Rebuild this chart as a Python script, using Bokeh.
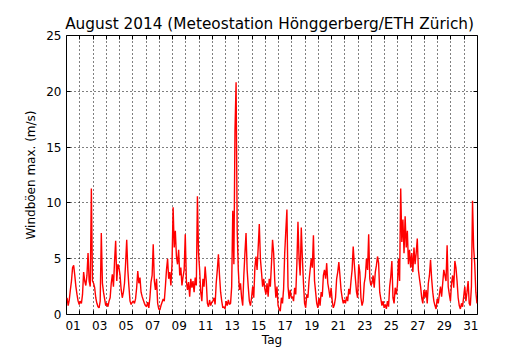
import numpy as np
from bokeh.plotting import figure
from bokeh.models import FixedTicker, CustomJSTickFormatter, LinearAxis, Range1d
from bokeh.embed import file_html
from bokeh.resources import INLINE

# --- data: estimated 2-hourly maximum wind gusts (m/s), August 2014, one row per day ---
gust_ms = [
    1.5, 0.8, 1.3, 2.2, 3.0, 4.2, 4.4, 3.5, 2.5, 1.8, 1.2, 0.9,      # 01
    1.2, 1.0, 1.8, 3.8, 3.0, 2.6, 3.5, 5.5, 3.0, 2.5, 11.3, 3.0,     # 02
    2.8, 2.4, 1.5, 1.0, 0.7, 0.6, 1.2, 7.3, 2.8, 2.0, 1.4, 0.8,      # 03
    1.0, 0.7, 1.2, 1.5, 2.8, 3.6, 2.5, 4.8, 6.6, 3.0, 4.5, 4.2,      # 04
    3.5, 2.2, 1.5, 2.0, 2.8, 4.6, 6.7, 4.0, 2.5, 1.2, 0.9, 1.1,      # 05
    1.2, 1.0, 1.4, 2.4, 3.9, 2.8, 3.3, 2.0, 1.6, 1.3, 1.0, 0.8,      # 06
    0.7, 1.1, 0.6, 1.5, 2.9, 3.5, 6.3, 3.0, 2.2, 3.2, 1.0, 0.5,      # 07
    0.4, 0.8, 1.1, 1.4, 1.2, 2.5, 4.0, 5.0, 3.2, 3.8, 2.6, 4.5,      # 08
    9.6, 6.0, 7.5, 5.2, 4.5, 5.8, 3.5, 4.2, 2.6, 3.4, 4.0, 7.2,      # 09
    3.0, 2.2, 2.9, 1.6, 3.2, 2.4, 3.0, 2.0, 3.3, 2.6, 10.6, 5.5,     # 10
    4.0, 2.0, 1.2, 3.2, 2.5, 4.3, 3.0, 1.0, 0.7, 1.3, 0.8, 1.1,      # 11
    1.2, 1.5, 0.9, 2.8, 4.0, 5.4, 3.5, 2.0, 1.2, 0.6, 0.7, 0.5,      # 12
    1.2, 0.8, 1.3, 0.9, 1.0, 2.5, 9.3, 4.5, 16.5, 20.8, 7.5, 4.0,    # 13
    2.2, 2.8, 1.5, 0.8, 3.5, 5.5, 7.3, 4.0, 2.5, 1.2, 0.8, 1.5,      # 14
    2.5, 1.5, 4.2, 5.2, 4.0, 6.0, 8.1, 5.0, 3.8, 2.5, 3.2, 2.3,      # 15
    1.8, 2.8, 1.6, 3.2, 2.5, 4.5, 6.7, 5.5, 3.0, 1.5, 2.5, 0.8,      # 16
    0.5, 0.3, 1.5, 1.0, 2.3, 5.5, 7.5, 9.4, 2.5, 1.4, 2.2, 1.5,      # 17
    1.6, 1.2, 2.4, 1.8, 4.5, 8.3, 5.0, 3.5, 7.8, 5.0, 2.8, 1.0,      # 18
    0.6, 1.8, 1.5, 3.0, 4.0, 5.0, 4.2, 7.1, 3.0, 2.0, 1.0, 0.6,      # 19
    1.5, 0.8, 2.0, 1.6, 3.5, 4.0, 3.2, 4.6, 2.8, 2.2, 1.5, 2.4,      # 20
    1.2, 0.6, 0.9, 1.5, 3.2, 3.8, 4.7, 3.5, 2.2, 1.5, 1.0, 1.3,      # 21
    1.0, 1.6, 1.2, 2.3, 1.8, 3.0, 4.0, 6.1, 4.5, 3.2, 2.0, 1.5,      # 22
    4.5, 3.8, 1.5, 0.8, 1.2, 2.8, 3.4, 5.0, 4.0, 7.2, 3.2, 2.6,      # 23
    2.8, 3.5, 2.4, 3.8, 4.4, 5.2, 4.6, 2.0, 1.4, 0.8, 1.2, 0.6,      # 24
    0.9, 0.5, 1.2, 0.7, 2.5, 3.4, 4.8, 1.5, 1.0, 2.4, 1.8, 2.6,      # 25
    5.0, 3.0, 11.3, 6.5, 8.5, 5.5, 8.8, 6.0, 7.5, 4.5, 5.8, 4.2,     # 26
    5.5, 3.8, 6.0, 4.5, 5.5, 6.8, 4.0, 3.2, 2.5, 1.5, 1.0, 2.2,      # 27
    1.5, 2.2, 1.0, 2.8, 3.5, 4.9, 3.2, 2.0, 1.2, 0.8, 0.5, 1.4,      # 28
    1.0, 1.8, 2.5, 1.6, 2.8, 4.0, 3.5, 3.0, 6.2, 2.5, 1.8, 1.2,      # 29
    2.8, 3.5, 2.4, 4.8, 4.2, 3.0, 1.5, 0.8, 0.5, 1.0, 0.7, 1.6,      # 30
    2.5, 1.2, 2.0, 3.0, 1.0, 0.8, 2.5, 10.2, 6.0, 4.5, 2.0, 1.0,     # 31
]
hours = np.arange(0, 744, 2)          # time of each value (hours since 1 Aug 00:00)
tick_labels = ["01", "03", "05", "07", "09", "11", "13", "15", "17", "19", "21",
               "23", "25", "27", "29", "31"]
label_pos = [0.5 + 2 * i for i in range(len(tick_labels))]   # noon of labelled days
day_bounds = list(range(1, 31))                               # midnights
y_ticks = [0, 5, 10, 15, 20, 25]

x = hours / 24.0 + 1.0 / 24.0

FONT = "DejaVu Sans"

p = figure(width=530, height=350, output_backend="svg", toolbar_location=None,
           x_range=Range1d(0, 31), y_range=Range1d(0, 25),
           title="August 2014  (Meteostation Hönggerberg/ETH Zürich)")
p.min_border_left = 66
p.min_border_right = 53
p.min_border_top = 35
p.min_border_bottom = 36
p.background_fill_color = "white"
p.border_fill_color = "white"
p.outline_line_color = "black"
p.outline_line_width = 1

p.title.align = "center"
p.title.text_font = FONT
p.title.text_font_size = "15.3px"
p.title.text_font_style = "normal"
p.title.text_color = "black"
p.title.standoff = 5

p.line(x, gust_ms, line_color="red", line_width=1.4)

# x axis: labels at noon, ticks at midnight
xa = p.xaxis[0]
xa.ticker = FixedTicker(ticks=label_pos, minor_ticks=day_bounds)
xa.formatter = CustomJSTickFormatter(args=dict(labels=tick_labels, pos=label_pos),
                                     code="const i = pos.indexOf(tick); return i >= 0 ? labels[i] : '';")
xa.major_tick_in = 0
xa.major_tick_out = 0
xa.minor_tick_in = 4
xa.minor_tick_out = 0
xa.minor_tick_line_color = "black"
xa.axis_line_color = None
xa.major_label_text_font = FONT
xa.major_label_text_font_size = "12px"
xa.major_label_text_color = "black"
xa.major_label_standoff = 6
xa.axis_label = "Tag"
xa.axis_label_text_font = FONT
xa.axis_label_text_font_size = "12px"
xa.axis_label_text_font_style = "normal"
xa.axis_label_text_color = "black"
xa.axis_label_standoff = 0

ya = p.yaxis[0]
ya.ticker = FixedTicker(ticks=y_ticks)
ya.major_tick_in = 4
ya.major_tick_out = 0
ya.major_tick_line_color = "black"
ya.minor_tick_line_color = None
ya.axis_line_color = None
ya.major_label_text_font = FONT
ya.major_label_text_font_size = "12px"
ya.major_label_text_color = "black"
ya.major_label_standoff = 5
ya.axis_label = "Windböen max. (m/s)"
ya.axis_label_text_font = FONT
ya.axis_label_text_font_size = "12px"
ya.axis_label_text_font_style = "normal"
ya.axis_label_text_color = "black"
ya.axis_label_standoff = 5

# ticks on right and top (inward, unlabeled)
blank = CustomJSTickFormatter(code="return '';")
ra = LinearAxis(ticker=FixedTicker(ticks=y_ticks), formatter=blank,
                major_tick_in=4, major_tick_out=0,
                minor_tick_line_color=None, axis_line_color=None,
                major_label_standoff=0)
p.add_layout(ra, "right")
ta = LinearAxis(ticker=FixedTicker(ticks=day_bounds), formatter=blank,
                major_tick_in=4, major_tick_out=0,
                minor_tick_line_color=None, axis_line_color=None,
                major_label_standoff=0)
p.add_layout(ta, "above")

p.xgrid.ticker = FixedTicker(ticks=day_bounds)
p.xgrid.grid_line_color = "black"
p.xgrid.grid_line_dash = "1 3"
p.xgrid.grid_line_width = 1
p.ygrid.ticker = FixedTicker(ticks=[5, 10, 15, 20])
p.ygrid.grid_line_color = "black"
p.ygrid.grid_line_dash = "1 3"
p.ygrid.grid_line_width = 1

open("out.html", "w").write(file_html(p, INLINE))
